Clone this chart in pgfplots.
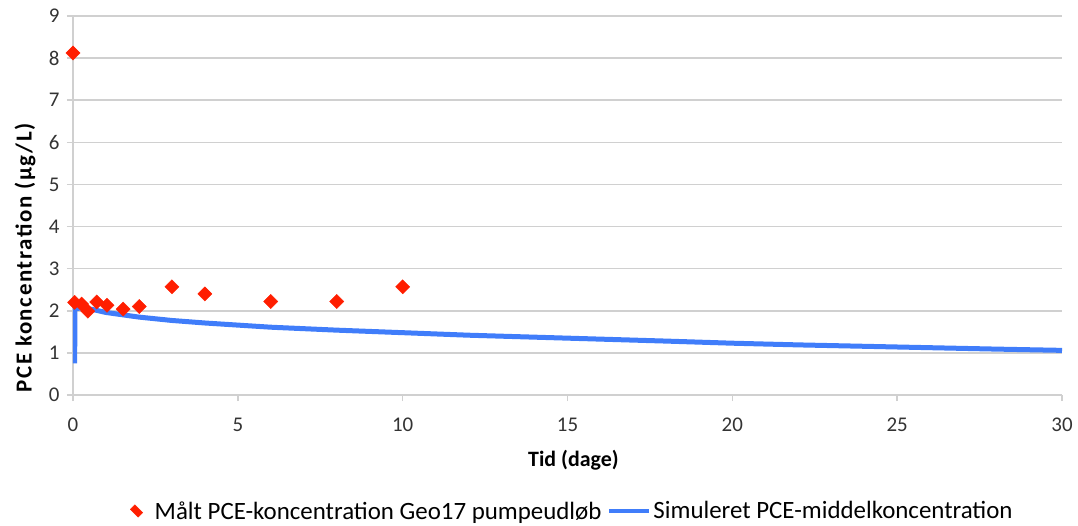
\documentclass[border=0pt]{standalone}
\usepackage{fontspec}
\setmainfont{Carlito}
\usepackage{pgfplots}
\pgfplotsset{compat=1.18}
\definecolor{mred}{RGB}{255,30,0}
\definecolor{mblue}{RGB}{64,125,250}
\definecolor{gridgray}{RGB}{208,208,208}
\begin{document}
\begin{tikzpicture}
\begin{axis}[
  at={(0,0)}, anchor=south west,
  scale only axis, width=989bp, height=379bp,
  xmin=0, xmax=30, ymin=0, ymax=9,
  xtick={0,5,...,30}, ytick={0,1,...,9},
  axis x line*=bottom, axis y line*=left,
  axis line style={gridgray, line width=1.5bp, -},
  ymajorgrids, grid style={gridgray, line width=1.5bp},
  tick style={gridgray, line width=1.5bp},
  tick align=outside, major tick length=6bp,
  /pgf/number format/assume math mode=true,
  ticklabel style={font=\fontsize{21}{24}\selectfont, text=black!80},
  xticklabel style={anchor=center, yshift=-24bp},
  yticklabel style={anchor=east, xshift=-4bp},
  xlabel={\textbf{Tid (dage)}},
  ylabel={\addfontfeature{LetterSpace=7}\textbf{PCE koncentration (µg/L)}},
  label style={font=\fontsize{22}{25}\selectfont},
  xlabel style={at={(axis description cs:0.506,-0.171)}, anchor=center},
  ylabel style={at={(axis description cs:-0.0485,0.364)}, anchor=center, font=\fontsize{23}{26}\selectfont},
  legend columns=2,
  legend style={draw=none, fill=none, at={(0.505,-0.306)}, anchor=center,
    font=\fontsize{25}{28}\selectfont, /tikz/every even column/.append style={column sep=4bp}},
]
\addplot[only marks, mark=square*, mark size=5bp, mark options={rotate=45, fill=mred, draw=mred}, color=mred,
  legend image code/.code={\draw[mark=square*, mark size=4bp, mark options={rotate=45,fill=mred,draw=mred,yscale=1.4,xscale=0.8}] plot coordinates {(0bp,0bp)};}]
coordinates {
(0,8.12) (0.05,2.20) (0.26,2.16) (0.45,1.99) (0.72,2.21) (1.03,2.13) (1.52,2.04) (2.01,2.10)
(3,2.57) (4,2.40) (6,2.22) (8,2.22) (10,2.57)
};
\addlegendentry{\hspace{10bp}Målt PCE-koncentration Geo17 pumpeudløb}
\addplot[mblue, line width=5bp, no marks,
  legend image code/.code={\draw[mblue, line width=4bp] (0bp,0bp) -- (40bp,0bp);}]
coordinates {
(0.05,0.75) (0.06,2.05) (0.3,2.07) (0.6,2.03) (1,1.96) (2,1.85) (3,1.77) (4,1.71) (5,1.66)
(6,1.61) (8,1.54) (10,1.48) (12,1.42) (15,1.35) (18,1.28) (20,1.23) (22,1.19) (25,1.14) (28,1.09) (30,1.06)
};
\addlegendentry{Simuleret PCE-middelkoncentration}
\end{axis}
\path (-73bp,-131bp) rectangle (1005bp,395bp);
\end{tikzpicture}
\end{document}
